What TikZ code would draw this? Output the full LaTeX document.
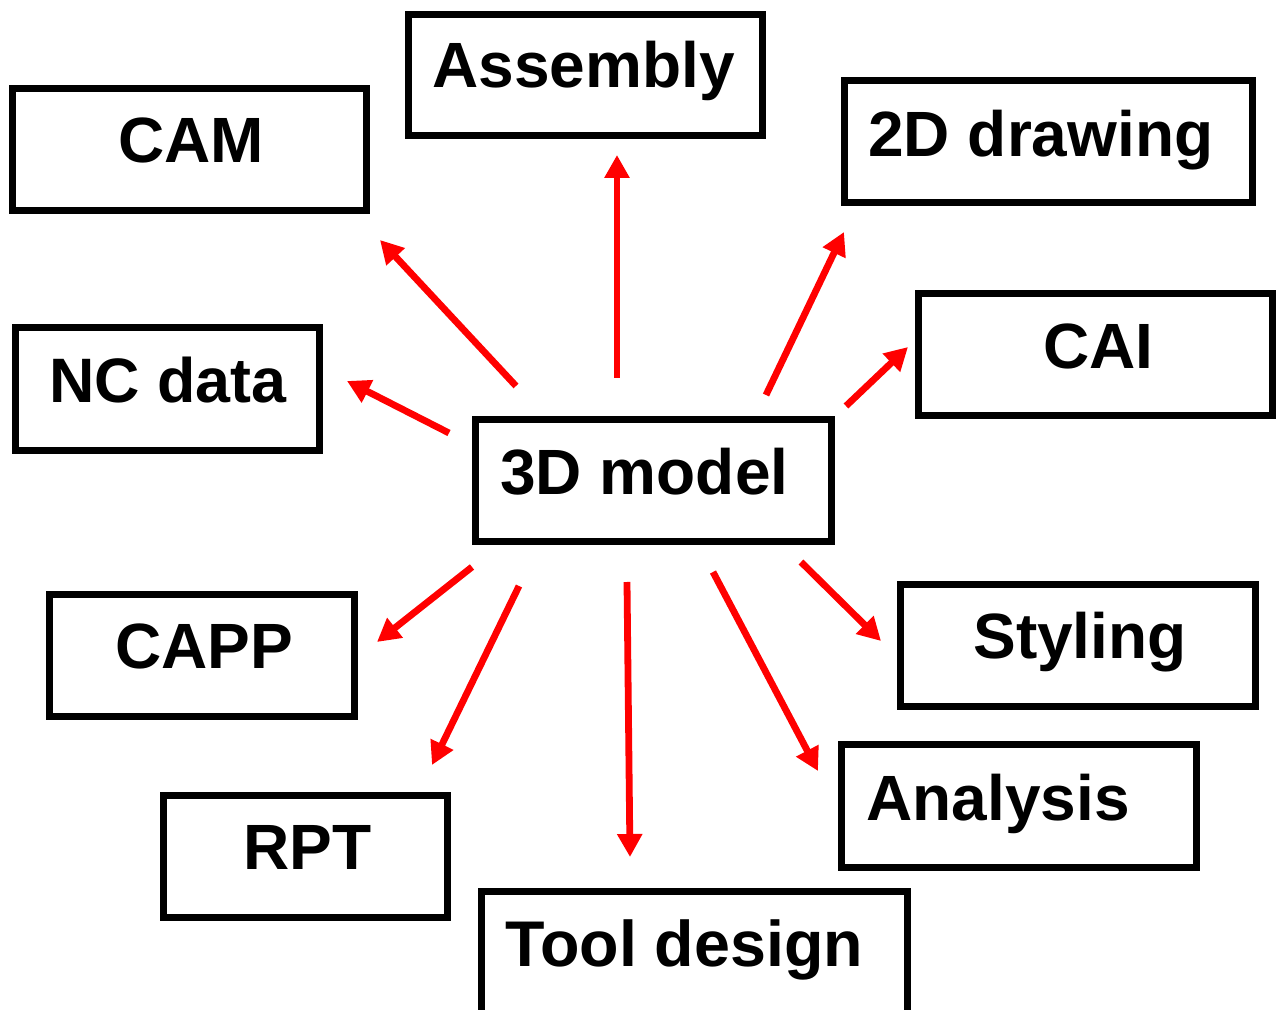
\documentclass[tikz,border=0pt]{standalone}
\usepackage{fontspec}
\setmainfont{Liberation Sans}
\usetikzlibrary{arrows.meta,fit}
\begin{document}
\begin{tikzpicture}[x=0.5pt,y=-0.5pt,
  box/.style={draw=black,line width=3.5pt,inner sep=0pt},
  lbl/.style={anchor=base west,inner sep=0pt,font=\fontsize{32}{38}\selectfont\bfseries},
  arr/.style={draw=red,line width=3.4pt,-{Triangle[width=12pt,length=11.5pt]}}]
\useasboundingbox (0,0) rectangle (1276,1010);
\clip (0,0) rectangle (1276,1010);
% boxes
\node[box,fit={(408,15) (762,136)}] (asm) {};
\node[box,fit={(12,89) (366,211)}] (cam) {};
\node[box,fit={(844,81) (1252,203)}] (dd) {};
\node[box,fit={(918,294) (1272,416)}] (cai) {};
\node[box,fit={(15,328) (319,451)}] (nc) {};
\node[box,fit={(475,420) (831,542)}] (model) {};
\node[box,fit={(49,595) (354,717)}] (capp) {};
\node[box,fit={(900,585) (1255,707)}] (sty) {};
\node[box,fit={(841,745) (1196,867)}] (ana) {};
\node[box,fit={(163,796) (447,917)}] (rpt) {};
\node[box,fit={(481,891) (907,1030)}] (tool) {};
% labels
\node[lbl] (asmt) at (432,88) {Assembly};
\node[lbl] (camt) at (118,163) {CAM};
\node[lbl] (ddt) at (868,157) {2D drawing};
\node[lbl] (cait) at (1043,369) {CAI};
\node[lbl,font=\fontsize{31.4}{38}\selectfont\bfseries] (nct) at (49,403) {NC data};
\node[lbl] (modelt) at (500,495) {3D model};
\node[lbl] (cappt) at (115,669) {CAPP};
\node[lbl] (styt) at (973,659) {Styling};
\node[lbl] (anat) at (866,820) {Analysis};
\node[lbl] (rptt) at (243,870) {RPT};
\node[lbl,font=\fontsize{32.3}{38}\selectfont\bfseries] (toolt) at (505,966) {Tool design};
% arrow ends
\coordinate (s1) at (617,378); \coordinate (e1) at (617,155);
\coordinate (s2) at (516,386); \coordinate (e2) at (380,240);
\coordinate (s3) at (766,395); \coordinate (e3) at (844,232);
\coordinate (s4) at (846,406); \coordinate (e4) at (908,347);
\coordinate (s5) at (449,433); \coordinate (e5) at (347,381);
\coordinate (s6) at (472,567); \coordinate (e6) at (377,642);
\coordinate (s7) at (519,586); \coordinate (e7) at (432,765);
\coordinate (s8) at (627,582); \coordinate (e8) at (630,857);
\coordinate (s9) at (713,572); \coordinate (e9) at (818,771);
\coordinate (s10) at (801,562); \coordinate (e10) at (881,641);
\foreach \i in {1,...,10} {\draw[arr] (s\i) -- (e\i);}
\end{tikzpicture}
\end{document}
